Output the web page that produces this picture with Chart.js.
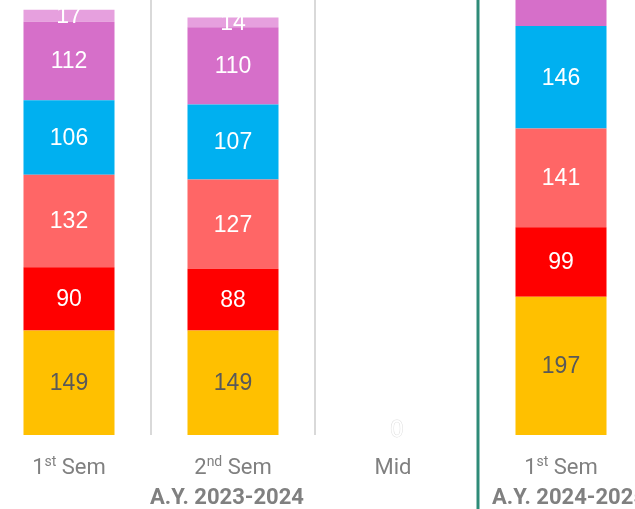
<!DOCTYPE html>
<html>
<head>
<meta charset="utf-8">
<script src="https://cdn.jsdelivr.net/npm/chart.js@4/dist/chart.umd.min.js"></script>
<style>
  html, body { margin: 0; padding: 0; background: #fff; overflow: hidden; width: 635px; height: 509px; }
  #wrap { position: absolute; left: -13px; top: 0; }
</style>
</head>
<body>
<div id="wrap"><canvas id="grafica" width="656" height="509"></canvas></div>
<script>
// DATOS
const categorias = ["1st Sem", "2nd Sem", "Mid", "1st Sem"];
const grupos = ["A.Y. 2023-2024", "A.Y. 2024-2025"];
const grupoDe = [0, 0, 0, 1];

const serie1 = [149, 149, 0, 197];
const serie2 = [90, 88, 0, 99];
const serie3 = [132, 127, 0, 141];
const serie4 = [106, 107, 0, 146];
const serie5 = [112, 110, 0, 120];
const serie6 = [17, 14, 0, 20];

const colores = ["#FFC000", "#FF0000", "#FF6666", "#00B0F0", "#D66FC9", "#E6A0DE"];
const colorTexto = ["#595959", "#ffffff", "#ffffff", "#ffffff", "#ffffff", "#ffffff"];

// ETIQUETAS DENTRO DE LAS BARRAS
const etiquetas = {
  id: "etiquetas",
  afterDatasetsDraw(chart) {
    const ctx = chart.ctx;
    ctx.save();
    ctx.font = "23px 'Liberation Sans', Arial, sans-serif";
    ctx.textAlign = "center";
    ctx.textBaseline = "middle";
    let ceroHecho = {};
    chart.data.datasets.forEach((ds, d) => {
      const meta = chart.getDatasetMeta(d);
      meta.data.forEach((bar, i) => {
        const v = ds.data[i];
        if (v === 0) {
          if (ceroHecho[i]) return;
          ceroHecho[i] = true;
          ctx.lineWidth = 1;
          ctx.strokeStyle = "rgba(200,200,200,0.6)";
          ctx.strokeText("0", bar.x, bar.base - 4);
          ctx.fillStyle = "#ffffff";
          ctx.fillText("0", bar.x, bar.base - 4);
          return;
        }
        ctx.fillStyle = colorTexto[d];
        ctx.fillText(String(v), bar.x, (bar.y + bar.base) / 2 + 1);
      });
    });
    ctx.restore();
  }
};

// SEPARADORES Y ETIQUETAS DEL EJE X
const ejeX = {
  id: "ejeX",
  beforeDatasetsDraw(chart) {
    const ctx = chart.ctx;
    const x = chart.scales.x;
    const area = chart.chartArea;
    ctx.save();
    for (let i = 0; i < categorias.length - 1; i++) {
      const xm = (x.getPixelForValue(i) + x.getPixelForValue(i + 1)) / 2;
      if (grupoDe[i] !== grupoDe[i + 1]) {
        ctx.strokeStyle = "#2E8B78";
        ctx.lineWidth = 3;
        ctx.beginPath();
        ctx.moveTo(xm - 1, 0);
        ctx.lineTo(xm - 1, chart.height);
        ctx.stroke();
      } else {
        ctx.strokeStyle = "#d9d9d9";
        ctx.lineWidth = 2;
        ctx.beginPath();
        ctx.moveTo(xm, area.top);
        ctx.lineTo(xm, area.bottom);
        ctx.stroke();
      }
    }
    ctx.restore();
  },
  afterDraw(chart) {
    const ctx = chart.ctx;
    const x = chart.scales.x;
    const area = chart.chartArea;
    ctx.save();
    ctx.fillStyle = "#808080";
    ctx.textBaseline = "alphabetic";
    categorias.forEach((c, i) => {
      const m = c.match(/^(\d+)(st|nd|rd|th) (.*)$/);
      let cx = x.getPixelForValue(i);
      const y = area.bottom + 39;
      if (!m) {
        ctx.font = "22px Roboto, sans-serif";
        ctx.textAlign = "center";
        ctx.fillText(c, cx - 4, y);
        return;
      }
      ctx.font = "22px Roboto, sans-serif";
      const w1 = ctx.measureText(m[1]).width;
      const w3 = ctx.measureText(" " + m[3]).width;
      ctx.font = "14px Roboto, sans-serif";
      const w2 = ctx.measureText(m[2]).width;
      let px = cx - (w1 + w2 + w3) / 2;
      ctx.textAlign = "left";
      ctx.font = "22px Roboto, sans-serif";
      ctx.fillText(m[1], px, y);
      ctx.font = "14px Roboto, sans-serif";
      ctx.fillText(m[2], px + w1, y - 8);
      ctx.font = "22px Roboto, sans-serif";
      ctx.fillText(" " + m[3], px + w1 + w2, y);
    });
    // nombres de grupo
    ctx.font = "bold 22px Roboto, sans-serif";
    ctx.textAlign = "center";
    grupos.forEach((g, k) => {
      const idx = grupoDe.map((v, i) => (v === k ? i : -1)).filter(i => i >= 0);
      let cx = (x.getPixelForValue(idx[0]) + x.getPixelForValue(idx[idx.length - 1])) / 2;
      cx += (k === grupos.length - 1) ? 8 : -6;
      ctx.fillText(g, cx, area.bottom + 69);
    });
    ctx.restore();
  }
};

const series = [serie1, serie2, serie3, serie4, serie5, serie6];

const data = {
  labels: categorias,
  datasets: series.map((s, d) => ({
    label: "Serie " + (d + 1),
    data: s,
    backgroundColor: colores[d],
    borderWidth: 0,
    categoryPercentage: 1,
    barPercentage: 0.555
  }))
};

const config = {
  type: "bar",
  data: data,
  options: {
    responsive: false,
    animation: false,
    layout: { padding: { top: 0, bottom: 74, left: 0, right: 0 } },
    plugins: {
      legend: { display: false },
      tooltip: { enabled: false }
    },
    scales: {
      x: { stacked: true, display: false, offset: true, grid: { display: false } },
      y: { stacked: true, display: false, min: 0, max: 620 }
    }
  },
  plugins: [ejeX, etiquetas]
};

new Chart(document.getElementById("grafica"), config);
</script>
</body>
</html>
